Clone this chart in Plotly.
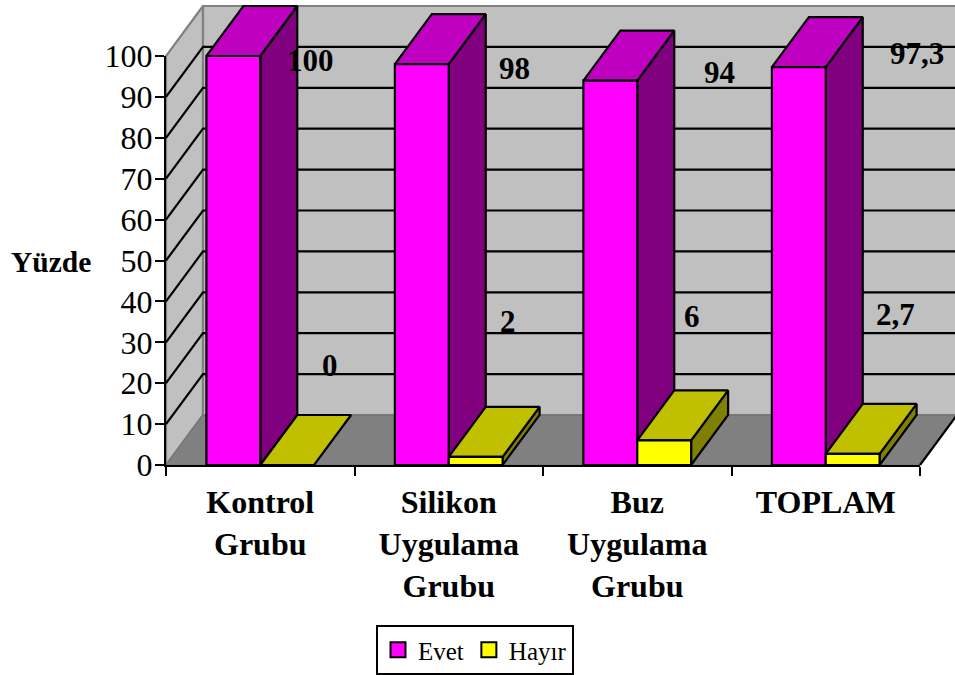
import plotly.graph_objects as go

# Survey results per group
categories = ["Kontrol<br>Grubu", "Silikon<br>Uygulama<br>Grubu", "Buz<br>Uygulama<br>Grubu", "TOPLAM"]
evet_values = [100, 98, 94, 97.3]
hayir_values = [0, 2, 6, 2.7]
evet_labels = ["100", "98", "94", "97,3"]
hayir_labels = ["0", "2", "6", "2,7"]
y_ticks = list(range(0, 101, 10))

# Hand-placed label anchors, in axis units
evet_label_pos = [(0.767, 99.0), (1.851, 97.0), (2.934, 96.0), (3.984, 100.7)]
hayir_label_pos = [(0.87, 24.4), (1.814, 35.0), (2.79, 36.4), (3.87, 36.7)]

# Canvas and axis frame: the value axis spans 56..465 px, the category axis 166..920 px
W, H = 955, 675
X_LEFT, X_RIGHT, Y_TOP, Y_BOTTOM = 166, 920, 56, 465
PX_PER_CAT = (X_RIGHT - X_LEFT) / 4
PX_PER_PCT = (Y_BOTTOM - Y_TOP) / 100

# Oblique projection of the depth axis, in axis units
DX, DY = 37 / PX_PER_CAT, 50 / PX_PER_PCT
BAR_W = 1 / 3.5
BAR_GAP = (1 - 2 * BAR_W) / 2

FONT = "Liberation Serif"
fig = go.Figure()


def poly(xs, ys, fill=None, line="black", width=2.2):
    fig.add_trace(go.Scatter(
        x=xs, y=ys, mode="lines", showlegend=False, hoverinfo="skip",
        fill="toself" if fill else None, fillcolor=fill,
        line=dict(color=line, width=width),
    ))


# Walls and floor
poly([0, DX, DX, 0, 0], [0, DY, 100 + DY, 100, 0], "#C0C0C0", "#808080", 2.2)
poly([DX, 4 + DX, 4 + DX, DX, DX], [DY, DY, 100 + DY, 100 + DY, DY], "#C0C0C0", "#808080", 2.2)
poly([0, 4, 4 + DX, DX, 0], [0, 0, DY, DY, 0], "#808080", "#707070", 1)
poly([4, 4 + DX], [0, DY], None, "black", 2.2)

# Gridlines run across the side wall, then the back wall
for t in y_ticks[1:-1]:
    poly([0, DX, 4 + DX], [t, t + DY, t + DY], None, "black", 2.2)


def bar(x0, value, front, top, side):
    x1 = x0 + BAR_W
    if value > 0:
        poly([x1, x1 + DX, x1 + DX, x1, x1], [0, DY, value + DY, value, 0], side)
    poly([x0, x1, x1 + DX, x0 + DX, x0], [value, value, value + DY, value + DY, value], top)
    if value > 0:
        poly([x0, x1, x1, x0, x0], [0, 0, value, value, 0], front)


for i in range(len(categories)):
    start = i + BAR_GAP
    bar(start, evet_values[i], "#FF00FF", "#C000C0", "#800080")
    bar(start + BAR_W, hayir_values[i], "#FFFF00", "#C0C000", "#808000")

# Legend entries live on the overlaid axis subplot
for name, color in [("Evet", "#FF00FF"), ("Hayır", "#FFFF00")]:
    fig.add_trace(go.Scatter(
        x=[None], y=[None], mode="markers", name=name, xaxis="x2", yaxis="y2",
        marker=dict(symbol="square", size=15, color=color, line=dict(color="black", width=2)),
    ))

annotations = [
    dict(x=x, y=y, text=f"<b>{t}</b>", showarrow=False, xref="x", yref="y",
         font=dict(family=FONT, size=31, color="black"))
    for (x, y), t in zip(evet_label_pos + hayir_label_pos, evet_labels + hayir_labels)
]
annotations.append(dict(
    x=51 / W, y=1 - 262 / H, xref="paper", yref="paper", showarrow=False,
    xanchor="center", yanchor="middle",
    text="<b>Yüzde</b>", font=dict(family=FONT, size=29.5, color="black"),
))

fig.update_layout(
    width=W, height=H, margin=dict(l=0, r=0, t=0, b=0, autoexpand=False),
    paper_bgcolor="white", plot_bgcolor="rgba(0,0,0,0)",
    font=dict(family=FONT, color="black"),
    annotations=annotations,
    # Full-canvas axes carry the projected box, so it can reach past the value range
    xaxis=dict(domain=[0, 1], range=[-X_LEFT / PX_PER_CAT, (W - X_LEFT) / PX_PER_CAT], visible=False),
    yaxis=dict(domain=[0, 1], range=[(Y_BOTTOM - H) / PX_PER_PCT, Y_BOTTOM / PX_PER_PCT], visible=False),
    # Visible axes sit on the front edge of the box
    xaxis2=dict(
        anchor="y2", domain=[X_LEFT / W, X_RIGHT / W], range=[0, 4], showgrid=False, zeroline=False,
        showline=True, linecolor="black", linewidth=2,
        tickmode="array", tickvals=[0.5, 1.5, 2.5, 3.5],
        ticktext=[f"<b>{c}</b>".replace("<br>", "</b><br><b>") for c in categories],
        ticks="", tickfont=dict(family=FONT, size=32), ticklabelstandoff=8,
        minor=dict(tickmode="array", tickvals=[0, 1, 2, 3, 4], ticks="outside",
                   ticklen=9, tickwidth=2, tickcolor="black"),
    ),
    yaxis2=dict(
        anchor="x2", domain=[1 - Y_BOTTOM / H, 1 - Y_TOP / H], range=[0, 100], showgrid=False, zeroline=False,
        showline=True, linecolor="black", linewidth=2,
        tickmode="array", tickvals=y_ticks, ticks="outside", ticklen=9, tickwidth=2,
        tickcolor="black", tickfont=dict(family=FONT, size=32), ticklabelstandoff=-4,
    ),
    showlegend=True,
    legend=dict(
        orientation="h", x=475 / W, y=1 - 625 / H, xanchor="center", yanchor="top",
        bordercolor="black", borderwidth=2, bgcolor="white",
        font=dict(family=FONT, size=25, color="black"),
    ),
)

fig.write_html("out.html")
